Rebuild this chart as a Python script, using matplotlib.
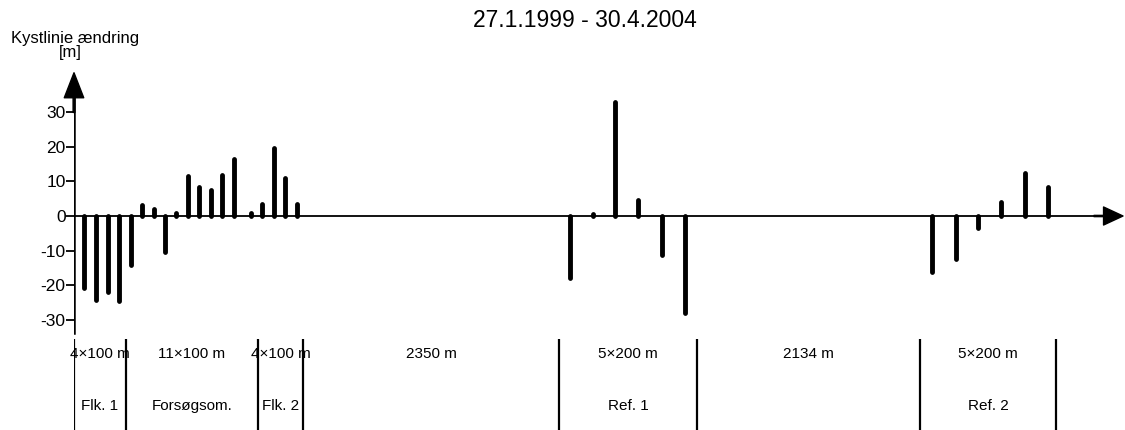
import numpy as np
import matplotlib.pyplot as plt

plt.rcParams['font.family'] = ['Liberation Sans', 'DejaVu Sans']

# Profilpositioner (skematisk afstand langs kysten) og kystlinieændring [m]
pos_flk1 = [10, 22, 34, 45]
val_flk1 = [-21.0, -24.3, -22.1, -24.7]
pos_fors = [57, 68, 80, 91, 102, 114, 125, 137, 148, 160, 177]
val_fors = [-14.2, 3.3, 2.0, -10.3, 0.9, 11.5, 8.3, 7.6, 12.0, 16.4, 0.9]
pos_flk2 = [188, 200, 211, 223]
val_flk2 = [3.6, 19.7, 11.0, 3.5]
pos_ref1 = [496, 519, 541, 564, 588, 611]
val_ref1 = [-18.0, 0.5, 33.1, 4.6, -11.3, -28.0]
pos_ref2 = [858, 882, 904, 927, 951, 974]
val_ref2 = [-16.1, -12.5, -3.6, 4.0, 12.6, 8.3]

# Strækninger under grafen
graenser = [0, 52, 184, 229, 485, 623, 846, 982]
laengde = ['4×100 m', '11×100 m', '4×100 m', '2350 m', '5×200 m', '2134 m', '5×200 m']
navne = ['Flk. 1', 'Forsøgsom.', 'Flk. 2', '', 'Ref. 1', '', 'Ref. 2']

yticks = [-30, -20, -10, 0, 10, 20, 30]
ytick_labels = ['-30', '-20', '-10', '0', '10', '20', '30']

pos = np.concatenate([pos_flk1, pos_fors, pos_flk2, pos_ref1, pos_ref2])
val = np.concatenate([val_flk1, val_fors, val_flk2, val_ref1, val_ref2])

fig = plt.figure(figsize=(11.25, 4.3), dpi=100)
ax = fig.add_axes([74 / 1125, 0, 1051 / 1125, 360 / 430])
ax.set_xlim(0, 1051)
ax.set_ylim(-62.0, 42.3)
for s in ax.spines.values():
    s.set_visible(False)

# akser med pile
ax.plot([0, 1030], [0, 0], color='k', lw=1.3, zorder=2)
ax.plot([0, 0], [-34, 35], color='k', lw=1.8, zorder=2)
ax.annotate('', xy=(1049, 0), xytext=(1020, 0),
            arrowprops=dict(width=0.9, headwidth=13, headlength=14,
                            color='k', shrink=0), annotation_clip=False)
ax.annotate('', xy=(0, 41.5), xytext=(0, 30),
            arrowprops=dict(width=1.3, headwidth=14, headlength=18,
                            color='k', shrink=0), annotation_clip=False)

# søjler
bars = ax.vlines(pos, 0, val, color='k', lw=3.5, zorder=3)
bars.set_capstyle('round')

ax.set_xticks([])
ax.set_yticks(yticks)
ax.set_yticklabels(ytick_labels, fontsize=12.5)
ax.tick_params(axis='y', length=5.5, width=1.3, pad=0.5)

# strækningsinddeling
ax.vlines(graenser, -62, -35.5, color='k', lw=1.6)
for i in range(len(laengde)):
    xc = (graenser[i] + graenser[i + 1]) / 2
    ax.text(xc, -40.0, laengde[i], ha='center', va='center', fontsize=11)
    if navne[i]:
        ax.text(xc, -55.0, navne[i], ha='center', va='center', fontsize=11)

fig.text(585 / 1125, 1 - 20.5 / 430, '27.1.1999 - 30.4.2004', ha='center',
         va='center', fontsize=16.5)
fig.text(11 / 1125, 1 - 38.5 / 430, 'Kystlinie ændring', ha='left',
         va='center', fontsize=12)
fig.text(70 / 1125, 1 - 53 / 430, '[m]', ha='center', va='center', fontsize=12)

fig.savefig('out.png', dpi=100)
